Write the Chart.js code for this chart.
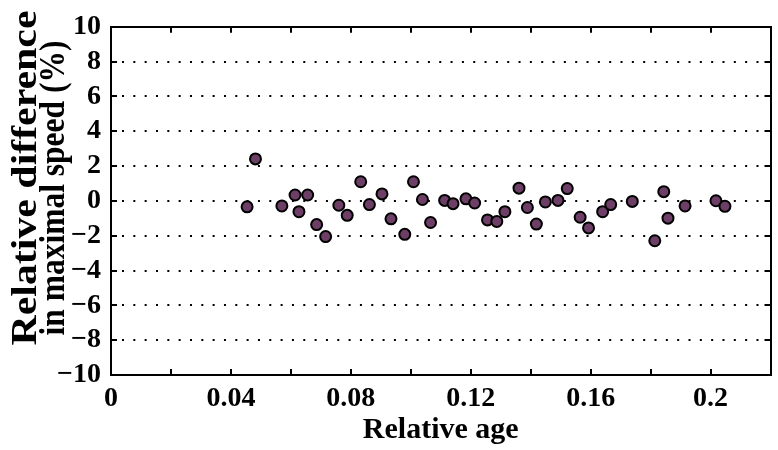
<!DOCTYPE html>
<html><head><meta charset="utf-8">
<script src="https://cdn.jsdelivr.net/npm/chart.js@4.4.0/dist/chart.umd.min.js"></script>
<style>html,body{margin:0;padding:0;background:#fff}#wrap{width:778px;height:450px;position:relative}</style>
</head><body><div id="wrap"><canvas id="c"></canvas></div>
<script>
// Data
const relativeAge = [0.0454,0.0482,0.0570,0.0614,0.0627,0.0656,0.0686,0.0716,0.0760,0.0788,0.0833,0.0862,0.0904,0.0934,0.0980,0.1009,0.1039,0.1066,0.1113,0.1141,0.1184,0.1213,0.1256,0.1287,0.1314,0.1361,0.1389,0.1419,0.1449,0.1491,0.1522,0.1565,0.1593,0.1640,0.1667,0.1739,0.1814,0.1844,0.1858,0.1915,0.2018,0.2048];
const speedDiff   = [-0.34,2.41,-0.29,0.34,-0.62,0.34,-1.36,-2.05,-0.25,-0.83,1.10,-0.21,0.40,-1.03,-1.92,1.10,0.08,-1.24,0.03,-0.16,0.12,-0.12,-1.09,-1.18,-0.62,0.73,-0.38,-1.33,-0.06,0.03,0.71,-0.94,-1.55,-0.62,-0.21,-0.03,-2.29,0.53,-0.99,-0.29,0.01,-0.31];
const xTickValues = [0,0.04,0.08,0.12,0.16,0.2];
const xTickLabels = ['0','0.04','0.08','0.12','0.16','0.2'];
const yTickValues = [-10,-8,-6,-4,-2,0,2,4,6,8,10];
const yTickLabels = ['\u221210','\u22128','\u22126','\u22124','\u22122','0','2','4','6','8','10'];
const xTitle = 'Relative age';
const yTitle = ['Relative difference','in maximal speed (%)'];

const points = relativeAge.map((x,i)=>({x:x,y:speedDiff[i]}));

const framePlugin = {
  id:'frame',
  beforeDatasetsDraw(chart){
    const {ctx, chartArea:a, scales:{x,y}} = chart;
    ctx.save();
    ctx.strokeStyle='#000'; ctx.lineWidth=2;
    ctx.setLineDash([2,9.33]); ctx.lineDashOffset=-11;
    y.ticks.forEach(t=>{
      if (t.value<=-10 || t.value>=10) return;
      const py=Math.round(y.getPixelForValue(t.value));
      ctx.beginPath(); ctx.moveTo(a.left,py); ctx.lineTo(a.right,py); ctx.stroke();
    });
    ctx.setLineDash([]);
    ctx.lineWidth=2;
    const tl=6;
    x.ticks.forEach(t=>{
      const px=Math.round(x.getPixelForValue(t.value));
      ctx.beginPath();
      ctx.moveTo(px,a.bottom); ctx.lineTo(px,a.bottom-tl);
      ctx.moveTo(px,a.top); ctx.lineTo(px,a.top+tl);
      ctx.stroke();
    });
    y.ticks.forEach(t=>{
      const py=Math.round(y.getPixelForValue(t.value));
      ctx.beginPath();
      ctx.moveTo(a.left,py); ctx.lineTo(a.left+tl,py);
      ctx.moveTo(a.right,py); ctx.lineTo(a.right-tl,py);
      ctx.stroke();
    });
    ctx.strokeRect(Math.round(a.left), Math.round(a.top), Math.round(a.right-a.left), Math.round(a.bottom-a.top));
    // y-axis title: two lines fitted to the reference extent
    const spec=[{text:yTitle[0], size:36, base:36, cy:178, len:335},{text:yTitle[1], size:35, base:64, cy:188, len:295}];
    ctx.fillStyle='#000';
    ctx.textAlign='center'; ctx.textBaseline='alphabetic';
    spec.forEach(s=>{
      ctx.font="bold "+s.size+"px 'Liberation Serif','Times New Roman',serif";
      const w=ctx.measureText(s.text).width;
      ctx.save();
      ctx.translate(s.base, s.cy);
      ctx.rotate(-Math.PI/2);
      ctx.scale(s.len/w, 1);
      ctx.fillText(s.text, 0, 0);
      ctx.restore();
    });
    ctx.restore();
  }
};

Chart.defaults.font.family = "'Liberation Serif','Times New Roman',serif";
Chart.defaults.font.weight = 'bold';
Chart.defaults.color = '#000';

new Chart(document.getElementById('c'), {
  type:'scatter',
  data:{datasets:[{
    data:points,
    backgroundColor:'#6e3f66',
    borderColor:'#000',
    borderWidth:2,
    pointRadius:5.5,
    pointHoverRadius:5.5
  }]},
  options:{
    responsive:true, maintainAspectRatio:false, animation:false,
    layout:{padding:{top:16,right:2,left:0,bottom:0}},
    plugins:{legend:{display:false},tooltip:{enabled:false}},
    scales:{
      x:{
        type:'linear', min:0, max:0.22,
        grid:{display:false, drawTicks:false},
        border:{display:false},
        ticks:{stepSize:0.02, padding:7, maxRotation:0, autoSkip:false,
          font:{size:28, weight:'bold'},
          callback:(v)=>{const i=xTickValues.findIndex(t=>Math.abs(t-v)<1e-6); return i<0?'':xTickLabels[i];}},
        title:{display:true, text:xTitle, font:{size:30, weight:'bold'}, padding:{top:0,bottom:2}},
        afterFit:(s)=>{s.height=75;}
      },
      y:{
        type:'linear', min:-10, max:10,
        grid:{display:false, drawTicks:false},
        border:{display:false},
        ticks:{stepSize:2, padding:10, autoSkip:false,
          font:{size:28, weight:'bold'},
          callback:(v)=>{const i=yTickValues.indexOf(v); return i<0?'':yTickLabels[i];}},
        title:{display:false, text:yTitle},
        afterFit:(s)=>{s.width=111;}
      }
    }
  },
  plugins:[framePlugin]
});
</script>
</body></html>
